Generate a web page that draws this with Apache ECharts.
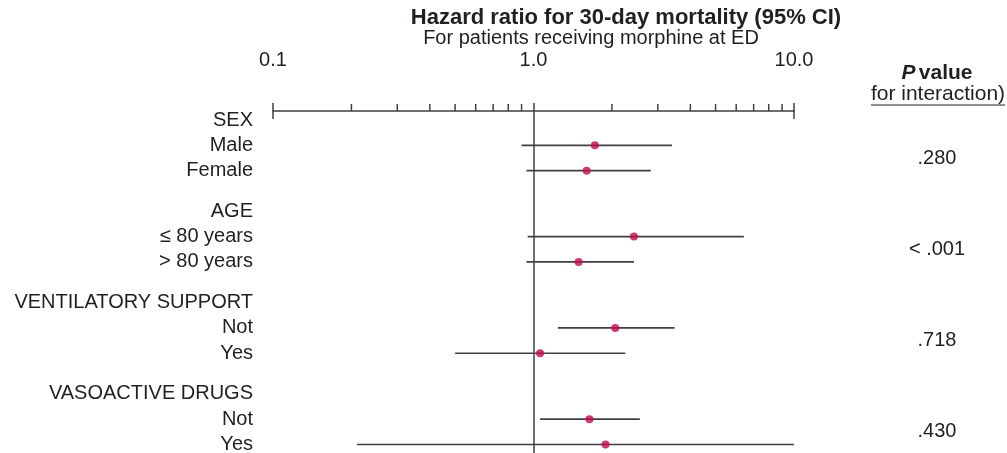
<!DOCTYPE html>
<html><head><meta charset="utf-8">
<script src="https://cdn.jsdelivr.net/npm/echarts@6/dist/echarts.min.js"></script>
<style>html,body{margin:0;padding:0;background:#fff}#c{width:1007px;height:453px}</style>
</head><body><div id="c"></div>
<script>
// ---------- data ----------
const groups = ['SEX', 'AGE', 'VENTILATORY SUPPORT', 'VASOACTIVE DRUGS'];
const subgroups = [['Male', 'Female'], ['≤ 80 years', '> 80 years'], ['Not', 'Yes'], ['Not', 'Yes']];
const hazardRatio = [[1.72, 1.60], [2.43, 1.49], [2.06, 1.06], [1.64, 1.89]];
const ciLower = [[0.90, 0.94], [0.95, 0.94], [1.24, 0.50], [1.06, 0.21]];
const ciUpper = [[3.40, 2.82], [6.42, 2.43], [3.48, 2.25], [2.56, 10.0]];
const pValues = ['.280', '< .001', '.718', '.430'];
const xTicks = [0.1, 1, 10];
const xTickLabels = ['0.1', '1.0', '10.0'];
const minorTicks = [0.2, 0.3, 0.4, 0.5, 0.6, 0.7, 0.8, 0.9, 2, 3, 4, 5, 6, 7, 8, 9];
const titleText = 'Hazard ratio for 30-day mortality (95% CI)';
const subtitleText = 'For patients receiving morphine at ED';

// ---------- layout ----------
const FONT = '"Liberation Sans", Arial, Helvetica, sans-serif';
const FS = 20;
const TXT = '#231f20';
const LINE = '#404040';
const DOT = '#c20a4c';
const GROUP_STEP = 3.6;

const rowLabels = [], rowPos = [];
const ciData = [], pointData = [], pData = [];
groups.forEach((g, gi) => {
  const base = gi * GROUP_STEP;
  rowLabels.push(g); rowPos.push(base);
  subgroups[gi].forEach((s, si) => {
    const pos = base + 1 + si;
    rowLabels.push(s); rowPos.push(pos);
    ciData.push([ciLower[gi][si], ciUpper[gi][si], pos]);
    pointData.push([hazardRatio[gi][si], pos]);
  });
  pData.push([10, base + 1.5]);
});

const Y_MIN = -0.355, Y_MAX = 13.135;

const chart = echarts.init(document.getElementById('c'), null, {renderer: 'canvas'});
chart.setOption({
  animation: false,
  backgroundColor: '#fff',
  title: [
    {text: titleText, left: 621, top: 2, textAlign: 'center',
     textStyle: {fontFamily: FONT, fontSize: 22, fontWeight: 'bold', color: TXT}},
    {text: subtitleText, left: 586, top: 23, textAlign: 'center',
     textStyle: {fontFamily: FONT, fontSize: FS, fontWeight: 'normal', color: TXT}}
  ],
  grid: {left: 273, right: 213, top: 111, bottom: 0, containLabel: false},
  xAxis: {
    type: 'log', logBase: 10, min: 0.1, max: 10, position: 'top',
    axisLine: {show: true, onZero: false, lineStyle: {color: LINE, width: 1.5}},
    axisTick: {show: true, length: 8, lineStyle: {color: LINE, width: 1.5}},
    minorTick: {show: false},
    splitLine: {show: false},
    axisLabel: {
      margin: 41, fontFamily: FONT, fontSize: FS, color: TXT,
      formatter: v => {
        const i = xTicks.findIndex(t => Math.abs(Math.log10(t) - Math.log10(v)) < 1e-6);
        return i >= 0 ? xTickLabels[i] : '';
      }
    }
  },
  yAxis: {type: 'value', inverse: true, min: Y_MIN, max: Y_MAX, show: false},
  series: [
    { // minor ticks on axis
      type: 'custom', silent: true, z: 3,
      data: minorTicks.map(v => [v, Y_MIN]),
      renderItem: (params, api) => {
        const p = api.coord([api.value(0), Y_MIN]);
        return {type: 'line', shape: {x1: p[0], y1: p[1], x2: p[0], y2: p[1] - 7},
                style: {stroke: LINE, lineWidth: 1.5}};
      }
    },
    { // end stubs below axis
      type: 'custom', silent: true, z: 3,
      data: [[xTicks[0], Y_MIN], [xTicks[xTicks.length - 1], Y_MIN]],
      renderItem: (params, api) => {
        const p = api.coord([api.value(0), Y_MIN]);
        return {type: 'line', shape: {x1: p[0], y1: p[1], x2: p[0], y2: p[1] + 8},
                style: {stroke: LINE, lineWidth: 1.5}};
      }
    },
    { // row labels
      type: 'custom', silent: true,
      data: rowPos.map(p => [0.1, p]),
      renderItem: (params, api) => {
        const p = api.coord([api.value(0), api.value(1)]);
        return {type: 'text', x: p[0] - 20, y: p[1],
                style: {text: rowLabels[params.dataIndex], align: 'right', verticalAlign: 'middle',
                        fontFamily: FONT, fontSize: FS, fill: TXT}};
      }
    },
    { // p values
      type: 'custom', silent: true,
      data: pData,
      renderItem: (params, api) => {
        const p = api.coord([api.value(0), api.value(1)]);
        return {type: 'text', x: p[0] + 143, y: p[1],
                style: {text: pValues[params.dataIndex], align: 'center', verticalAlign: 'middle',
                        fontFamily: FONT, fontSize: FS, fill: TXT}};
      }
    },
    { // confidence intervals
      type: 'custom', silent: true, z: 4,
      data: ciData,
      encode: {x: [0, 1], y: 2},
      renderItem: (params, api) => {
        const a = api.coord([api.value(0), api.value(2)]);
        const b = api.coord([api.value(1), api.value(2)]);
        return {type: 'line', shape: {x1: a[0], y1: a[1], x2: b[0], y2: b[1]},
                style: {stroke: LINE, lineWidth: 1.7}};
      }
    },
    { // point estimates
      type: 'scatter', z: 5, symbol: 'circle', symbolSize: 8,
      itemStyle: {color: DOT},
      data: pointData,
      markLine: {
        silent: true, symbol: 'none', label: {show: false},
        lineStyle: {color: LINE, width: 1.5, type: 'solid'},
        data: [{xAxis: 1}]
      }
    }
  ],
  graphic: [
    {type: 'text', x: 937, y: 73,
     style: {text: '{p|P} {b|value}', align: 'center', verticalAlign: 'middle',
             rich: {p: {fontFamily: FONT, fontSize: 21, fontWeight: 'bold', fontStyle: 'italic', fill: TXT},
                    b: {fontFamily: FONT, fontSize: 21, fontWeight: 'bold', fill: TXT}}}},
    {type: 'text', x: 938, y: 94,
     style: {text: 'for interaction)', align: 'center', verticalAlign: 'middle',
             fontFamily: FONT, fontSize: 21, fill: TXT}},
    {type: 'line', shape: {x1: 871, y1: 105, x2: 1005, y2: 105},
     style: {stroke: TXT, lineWidth: 1}}
  ]
});
</script></body></html>
